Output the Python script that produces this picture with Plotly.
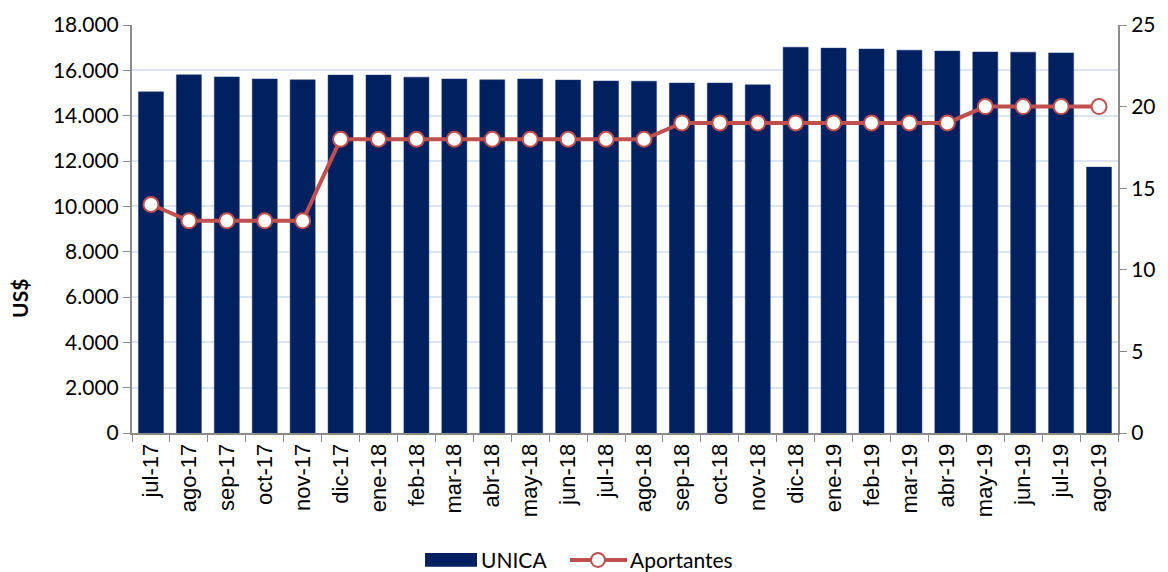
import plotly.graph_objects as go

categories = ["jul-17","ago-17","sep-17","oct-17","nov-17","dic-17","ene-18","feb-18","mar-18",
              "abr-18","may-18","jun-18","jul-18","ago-18","sep-18","oct-18","nov-18","dic-18",
              "ene-19","feb-19","mar-19","abr-19","may-19","jun-19","jul-19","ago-19"]
unica = [15050,15800,15710,15620,15580,15790,15790,15700,15620,15580,15620,15570,15530,15520,
         15440,15440,15360,17020,16980,16940,16890,16850,16810,16800,16770,11730]
aportantes = [14,13,13,13,13,18,18,18,18,18,18,18,18,18,19,19,19,19,19,19,19,19,20,20,20,20]

left_ticks = list(range(0, 18001, 2000))
left_labels = [f"{v:,}".replace(",", ".") for v in left_ticks]

BAR_COLOR = "#002060"
LINE_COLOR = "#c0504d"
AXIS_COLOR = "#8c8c8c"
FONT = "Lato, Open Sans, sans-serif"

fig = go.Figure()
fig.add_trace(go.Bar(x=categories, y=unica, name="UNICA", showlegend=False,
                     marker=dict(color=BAR_COLOR, line=dict(color="#1f3a7a", width=0.5))))
fig.add_trace(go.Scatter(x=categories, y=aportantes, name="Aportantes", yaxis="y2",
                         mode="lines+markers", showlegend=False,
                         line=dict(color=LINE_COLOR, width=4),
                         marker=dict(size=15, color="white", line=dict(color=LINE_COLOR, width=2))))

# custom legend (Excel-like wide swatches)
fig.add_shape(type="rect", xref="paper", yref="paper", x0=0.2972, x1=0.3499, y0=-0.294, y1=-0.328,
              fillcolor=BAR_COLOR, line=dict(width=0))
fig.add_annotation(xref="paper", yref="paper", x=0.352, y=-0.311, text="UNICA", showarrow=False,
                   xanchor="left", yanchor="middle", font=dict(family=FONT, size=21, color="black"))
fig.add_shape(type="line", xref="paper", yref="paper", x0=0.4442, x1=0.502, y0=-0.311, y1=-0.311,
              line=dict(color=LINE_COLOR, width=4))
fig.add_shape(type="circle", xref="paper", yref="paper", xsizemode="pixel", ysizemode="pixel",
              xanchor=0.4726, yanchor=-0.311, x0=-7, x1=7, y0=-7, y1=7,
              fillcolor="white", line=dict(color=LINE_COLOR, width=2))
fig.add_annotation(xref="paper", yref="paper", x=0.503, y=-0.311, text="Aportantes", showarrow=False,
                   xanchor="left", yanchor="middle", font=dict(family=FONT, size=21, color="black"))
fig.add_annotation(xref="paper", yref="paper", x=-0.1136, y=0.331, text="<b>US$</b>", showarrow=False,
                   textangle=-90, xanchor="center", yanchor="middle",
                   font=dict(family=FONT, size=21, color="black"))

fig.update_layout(
    width=1160, height=564,
    margin=dict(l=124, r=50, t=17, b=139),
    plot_bgcolor="white", paper_bgcolor="white",
    bargap=0.34,
    showlegend=False,
    font=dict(family=FONT, size=21, color="black"),
    xaxis=dict(type="category", range=[-0.5, len(categories) - 0.5], tickangle=-90,
               showline=True, linecolor=AXIS_COLOR, linewidth=2,
               ticks="outside", tickson="boundaries", ticklen=7, tickcolor=AXIS_COLOR,
               tickfont=dict(family="Liberation Sans, Arial", size=22), showgrid=False,
               automargin=False),
    yaxis=dict(range=[0, 18000], tickvals=left_ticks, ticktext=left_labels,
               showline=True, linecolor=AXIS_COLOR, linewidth=2, ticks="outside", ticklen=7,
               tickcolor=AXIS_COLOR, gridcolor="#dce6f2", gridwidth=1.5, zeroline=False,
               automargin=False),
    yaxis2=dict(range=[0, 25], tickvals=[0,5,10,15,20,25], overlaying="y", side="right",
                showline=True, linecolor=AXIS_COLOR, linewidth=2, ticks="outside", ticklen=7,
                tickcolor=AXIS_COLOR, showgrid=False, zeroline=False, automargin=False),
)

fig.write_html("out.html")
